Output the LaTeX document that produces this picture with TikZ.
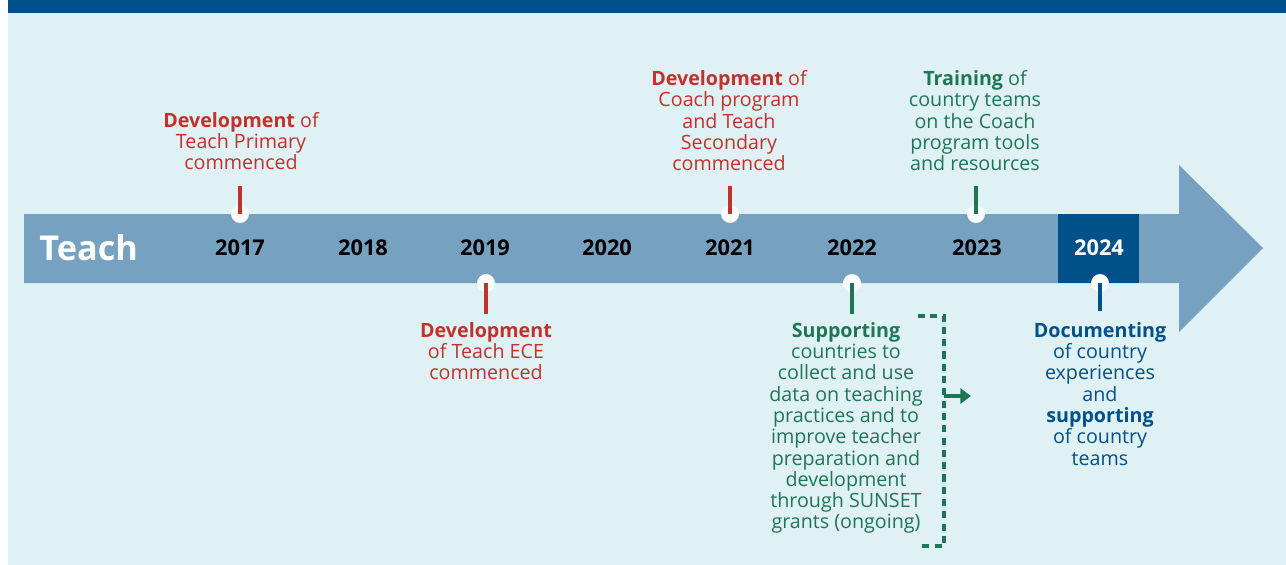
\documentclass[tikz,border=0pt]{standalone}
\usepackage{fontspec}
\setmainfont{Open Sans}
\usetikzlibrary{arrows.meta, positioning, calc}
\definecolor{BarBlue}{RGB}{118, 161, 192}
\definecolor{DeepBlue}{RGB}{0, 80, 138}
\definecolor{PaleCyan}{RGB}{224, 241, 245}
\definecolor{EvRed}{RGB}{192, 50, 43}
\definecolor{EvGreen}{RGB}{31, 118, 86}
\tikzset{
  yearlbl/.style={font=\fontsize{12.4}{13}\selectfont\bfseries, inner sep=0pt},
  evtext/.style={align=center, inner sep=0pt, font=\fontsize{11.2}{12.12}\selectfont},
  dot/.style={circle, fill=white, inner sep=0pt, minimum size=10.2pt},
  tick/.style={line width=1.9pt}
}

\begin{document}
\begin{tikzpicture}[x=0.02cm, y=-0.02cm]
  % Fondo
  \useasboundingbox (0,0) rectangle (1286,565);
  \fill[PaleCyan] (8,0) rectangle (1286,565);
  \fill[DeepBlue] (8,0) rectangle (1286,13);

  % Flecha
  \fill[BarBlue] (24,214) -- (1179,214) -- (1179,165) -- (1263,248)
    -- (1179,332) -- (1179,283) -- (24,283) -- cycle;
  \fill[DeepBlue] (1058,214) rectangle (1139,283);
  \node[anchor=west, inner sep=0pt, white, font=\fontsize{19.5}{20}\selectfont\bfseries]
    (title) at (39,248) {Teach};

  % Anos
  \node[yearlbl] (y2017) at (240,248) {2017};
  \node[yearlbl] (y2018) at (363,248) {2018};
  \node[yearlbl] (y2019) at (485,248) {2019};
  \node[yearlbl] (y2020) at (607,248) {2020};
  \node[yearlbl] (y2021) at (730,248) {2021};
  \node[yearlbl] (y2022) at (852,248) {2022};
  \node[yearlbl] (y2023) at (977,248) {2023};
  \node[yearlbl, white] (y2024) at (1099,248) {2024};

  % Marcas
  \node[dot] (d2017) at (240,214) {};
  \node[dot] (d2021) at (730,214) {};
  \node[dot] (d2023) at (976,214) {};
  \node[dot] (d2019) at (486,283) {};
  \node[dot] (d2022) at (852,283) {};
  \node[dot] (d2024) at (1100,283) {};

  % Eventos arriba
  \node[evtext, EvRed, anchor=north] (l2017) at (241,112)
    {\textbf{Development} of\\Teach Primary\\commenced};
  \node[evtext, EvRed, anchor=north] (l2021) at (729,70)
    {\textbf{Development} of\\Coach program\\and Teach\\Secondary\\commenced};
  \node[evtext, EvGreen, anchor=north] (l2023) at (975,70)
    {\textbf{Training} of\\country teams\\on the Coach\\program tools\\and resources};

  % Eventos abajo
  \node[evtext, EvRed, anchor=north] (l2019) at (486,322)
    {\textbf{Development}\\of Teach ECE\\commenced};
  \node[evtext, EvGreen, anchor=north] (l2022) at (846,322)
    {\textbf{Supporting}\\countries to\\collect and use\\data on teaching\\practices and to\\improve teacher\\preparation and\\development\\through SUNSET\\grants (ongoing)};
  \node[evtext, DeepBlue, anchor=north] (l2024) at (1100,322)
    {\textbf{Documenting}\\of country\\experiences\\and\\\textbf{supporting}\\of country\\teams};

  % Lineas
  \draw[tick, EvRed] (d2017.center) -- ++(0,-28);
  \draw[tick, EvRed] (d2021.center) -- ++(0,-28);
  \draw[tick, EvGreen] (d2023.center) -- ++(0,-28);
  \draw[tick, EvRed] (d2019.center) -- ++(0,31);
  \draw[tick, EvGreen] (d2022.center) -- ++(0,31);
  \draw[tick, DeepBlue] (d2024.center) -- ++(0,28);

  % Corchete
  \coordinate (bt) at (944,316);
  \coordinate (bb) at (944,546);
  \draw[EvGreen, line width=1.8pt, dash pattern=on 4pt off 3pt]
    (918,316) -- (bt) -- (bb) -- (918,546);
  \draw[EvGreen, line width=1.8pt, -{Triangle[length=6pt, width=8.5pt]}]
    ($(bt)!0.348!(bb)$) -- ++(27,0);
\end{tikzpicture}
\end{document}
